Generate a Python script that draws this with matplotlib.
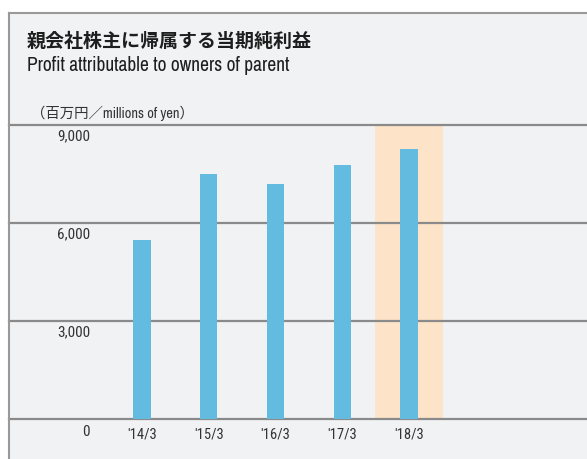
import matplotlib
matplotlib.use("Agg")
from matplotlib import pyplot as plt
from matplotlib.patches import Rectangle
from matplotlib.lines import Line2D

# データ（百万円）
years = ["'14/3", "'15/3", "'16/3", "'17/3", "'18/3"]
profit = [5480, 7500, 7200, 7780, 8270]
y_ticks = [0, 3000, 6000, 9000]
y_tick_labels = ["0", "3,000", "6,000", "9,000"]
highlight_index = 4

W, H = 587, 459
BG = "#f1f2f4"
BAR = "#63bce0"
HILITE = "#fde3c8"
GRID = "#8a8a8a"
NARROW = ["Roboto Condensed", "Noto Sans CJK JP", "DejaVu Sans"]
NARROW2 = ["Archivo Narrow", "Roboto Condensed", "Noto Sans CJK JP", "DejaVu Sans"]
JP = ["Noto Sans CJK JP", "DejaVu Sans"]

fig = plt.figure(figsize=(W / 100, H / 100), dpi=100, facecolor="white")

# パネル背景と枠線
panel_left = 9 / W
panel_top = 1 - 13 / H
fig.patches.append(Rectangle((panel_left, 0), 1 - panel_left, panel_top,
                             transform=fig.transFigure, facecolor=BG,
                             edgecolor="none", zorder=-5))
fig.lines.append(Line2D([panel_left, panel_left], [0, panel_top],
                        transform=fig.transFigure, color="#999999", lw=1.5))
fig.lines.append(Line2D([panel_left, 1], [panel_top, panel_top],
                        transform=fig.transFigure, color="#999999", lw=1.5))

# タイトル
fig.text(27 / W, 1 - 41 / H, "親会社株主に帰属する当期純利益", family=JP,
         fontweight="bold", fontsize=13.7, va="center", ha="left", color="#1e1e1e")
fig.text(27 / W, 1 - 66 / H, "Profit attributable to owners of parent",
         family=NARROW2, fontsize=14, va="center", ha="left", color="#1e1e1e")
fig.text(31 / W, 1 - 113 / H, "（百万円／millions of yen）", family=NARROW2,
         fontsize=10.4, va="center", ha="left", color="#333333")

# 軸：1単位 = 66.75px、最初の棒の中心 x=142
step = 66.75
x0 = 142
ax = fig.add_axes([9 / W, (H - 419.3) / H, 578 / W, 294.3 / H])
ax.set_xlim((9 - x0) / step, (587 - x0) / step)
ax.set_ylim(0, 9000)
ax.axis("off")

x = list(range(len(years)))
ax.axvspan(highlight_index - 0.51, highlight_index + 0.51, ymin=0, ymax=1,
           color=HILITE, lw=0, zorder=0)
for v in y_ticks:
    ax.axhline(v, color=GRID, lw=1.6, zorder=1, clip_on=False)
ax.bar(x, profit, width=0.255, color=BAR, zorder=2)

# 目盛ラベル（罫線の下に配置）
label_x = (90 - x0) / step
for v, lab in zip(y_ticks, y_tick_labels):
    off = -13 if v == 0 else -11.5
    ax.annotate(lab, (label_x, v), xytext=(0, off * 0.72), textcoords="offset points",
                ha="right", va="center", family=NARROW, fontsize=11,
                color="#333333", annotation_clip=False)
for i, lab in zip(x, years):
    ax.annotate(lab, (i, 0), xytext=(0, -15 * 0.72), textcoords="offset points",
                ha="center", va="center", family=NARROW, fontsize=10.5,
                color="#333333", annotation_clip=False)

fig.savefig("out.png", dpi=100, facecolor="white")
